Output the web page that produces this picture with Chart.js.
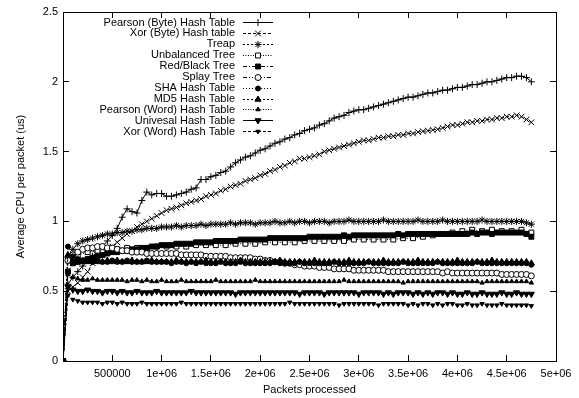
<!DOCTYPE html>
<html>
<head>
<meta charset="utf-8">
<script src="https://cdn.jsdelivr.net/npm/chart.js@4/dist/chart.umd.min.js"></script>
<style>
  html, body { margin: 0; padding: 0; background: #fff; }
</style>
</head>
<body>
<canvas id="cpu_chart" width="579" height="398"></canvas>
<script>
// packets processed (x) for every series except the unbalanced tree
const packets = [0,50000,100000,150000,200000,250000,300000,350000,400000,450000,
  500000,550000,600000,650000,700000,750000,800000,850000,900000,950000,
  1000000,1050000,1100000,1150000,1200000,1250000,1300000,1350000,1400000,1450000,
  1500000,1550000,1600000,1650000,1700000,1750000,1800000,1850000,1900000,1950000,
  2000000,2050000,2100000,2150000,2200000,2250000,2300000,2350000,2400000,2450000,
  2500000,2550000,2600000,2650000,2700000,2750000,2800000,2850000,2900000,2950000,
  3000000,3050000,3100000,3150000,3200000,3250000,3300000,3350000,3400000,3450000,
  3500000,3550000,3600000,3650000,3700000,3750000,3800000,3850000,3900000,3950000,
  4000000,4050000,4100000,4150000,4200000,4250000,4300000,4350000,4400000,4450000,
  4500000,4550000,4600000,4650000,4700000,4750000];

// the unbalanced tree was sampled half as often
const packetsUnbalanced = [0,50000,150000,250000,350000,450000,550000,650000,750000,850000,950000,
  1050000,1150000,1250000,1350000,1450000,1550000,1650000,1750000,1850000,1950000,
  2050000,2150000,2250000,2350000,2450000,2550000,2650000,2750000,2850000,2950000,
  3050000,3150000,3250000,3350000,3450000,3550000,3650000,3750000,3850000,3950000,
  4050000,4150000,4250000,4350000,4450000,4550000,4650000,4750000];

const pearsonByte = [0,
  0.55,0.60,0.64,0.68,0.72,0.75,0.78,0.82,0.86,0.90,
  0.95,1.03,1.09,1.07,1.06,1.15,1.21,1.19,1.20,1.20,
  1.18,1.18,1.19,1.20,1.21,1.23,1.24,1.30,1.30,1.32,
  1.33,1.35,1.36,1.39,1.42,1.44,1.46,1.47,1.49,1.51,
  1.52,1.54,1.56,1.57,1.59,1.60,1.62,1.63,1.65,1.66,
  1.67,1.69,1.70,1.72,1.74,1.75,1.76,1.78,1.79,1.80,
  1.80,1.81,1.82,1.83,1.84,1.85,1.86,1.87,1.88,1.89,
  1.89,1.90,1.91,1.92,1.92,1.93,1.94,1.94,1.95,1.96,
  1.96,1.97,1.98,1.98,1.99,2.00,2.00,2.01,2.02,2.03,
  2.03,2.04,2.04,2.03,2.00];

const xorByte = [0,
  0.50,0.53,0.56,0.60,0.64,0.70,0.73,0.76,0.79,0.82,
  0.85,0.88,0.91,0.93,0.96,0.98,1.00,1.02,1.04,1.06,
  1.08,1.09,1.10,1.115,1.13,1.14,1.15,1.16,1.18,1.19,
  1.20,1.22,1.23,1.25,1.26,1.27,1.29,1.30,1.31,1.33,
  1.34,1.36,1.37,1.39,1.40,1.42,1.43,1.45,1.45,1.46,
  1.47,1.48,1.50,1.51,1.52,1.53,1.54,1.55,1.56,1.57,
  1.58,1.58,1.59,1.60,1.60,1.61,1.61,1.62,1.62,1.63,
  1.63,1.64,1.645,1.65,1.655,1.66,1.67,1.68,1.69,1.69,
  1.70,1.71,1.71,1.72,1.72,1.73,1.73,1.74,1.74,1.75,
  1.75,1.76,1.75,1.73,1.71];

const treap = [0,
  0.74,0.80,0.84,0.86,0.87,0.88,0.89,0.90,0.91,0.91,
  0.92,0.92,0.93,0.93,0.94,0.94,0.95,0.95,0.95,0.96,
  0.96,0.96,0.97,0.96,0.97,0.97,0.97,0.98,0.97,0.98,
  0.98,0.98,0.98,0.99,0.98,0.99,0.99,0.99,0.98,0.99,
  0.99,0.99,1.00,0.99,0.99,1.00,0.99,1.00,1.00,0.99,
  1.00,1.00,1.00,0.99,1.00,1.00,1.00,1.01,1.00,1.00,
  1.00,1.00,1.00,1.00,1.01,1.00,1.00,1.00,1.00,1.00,
  1.00,1.01,1.00,1.00,1.00,1.00,1.01,1.00,1.00,1.00,
  1.00,1.00,1.00,1.00,1.01,1.00,1.00,1.00,1.00,1.00,
  1.00,1.00,1.00,0.99,0.98];

const unbalanced = [0,
  0.72,0.76,0.78,0.79,0.80,0.80,0.81,0.81,0.81,0.82,
  0.82,0.82,0.82,0.83,0.83,0.83,0.83,0.84,0.84,0.84,
  0.85,0.85,0.85,0.85,0.86,0.86,0.86,0.86,0.86,0.87,
  0.87,0.87,0.87,0.87,0.88,0.88,0.89,0.90,0.91,0.92,
  0.93,0.94,0.93,0.94,0.93,0.93,0.94,0.92];

const redBlack = [0,
  0.64,0.70,0.71,0.72,0.73,0.74,0.75,0.76,0.77,0.78,
  0.78,0.79,0.79,0.80,0.80,0.81,0.81,0.82,0.82,0.83,
  0.83,0.83,0.84,0.84,0.84,0.84,0.85,0.85,0.85,0.85,
  0.86,0.86,0.86,0.86,0.86,0.87,0.87,0.87,0.87,0.87,
  0.87,0.88,0.88,0.88,0.88,0.88,0.88,0.88,0.88,0.89,
  0.89,0.89,0.89,0.89,0.89,0.89,0.90,0.89,0.90,0.90,
  0.90,0.90,0.90,0.90,0.90,0.90,0.90,0.91,0.90,0.91,
  0.91,0.91,0.91,0.91,0.91,0.91,0.91,0.91,0.91,0.91,
  0.91,0.91,0.92,0.91,0.92,0.92,0.91,0.92,0.92,0.92,
  0.92,0.92,0.92,0.91,0.89];

const splay = [0,
  0.72,0.76,0.78,0.80,0.81,0.81,0.82,0.82,0.81,0.81,
  0.80,0.79,0.79,0.78,0.78,0.78,0.77,0.77,0.77,0.77,
  0.77,0.77,0.77,0.76,0.76,0.76,0.76,0.76,0.75,0.75,
  0.75,0.75,0.75,0.74,0.74,0.74,0.74,0.74,0.73,0.73,
  0.72,0.72,0.71,0.71,0.70,0.70,0.69,0.69,0.68,0.68,
  0.68,0.67,0.67,0.67,0.66,0.66,0.66,0.66,0.65,0.65,
  0.65,0.65,0.65,0.65,0.65,0.64,0.64,0.64,0.64,0.64,
  0.64,0.64,0.64,0.64,0.64,0.64,0.63,0.64,0.63,0.63,
  0.63,0.63,0.63,0.63,0.63,0.63,0.63,0.63,0.62,0.62,
  0.62,0.62,0.62,0.62,0.61];

const sha = [0,
  0.82,0.75,0.73,0.72,0.72,0.71,0.72,0.71,0.71,0.72,
  0.71,0.71,0.72,0.71,0.71,0.71,0.72,0.71,0.71,0.71,
  0.71,0.70,0.71,0.71,0.70,0.71,0.70,0.71,0.70,0.70,
  0.70,0.71,0.70,0.70,0.70,0.71,0.70,0.70,0.70,0.70,
  0.70,0.70,0.71,0.70,0.70,0.70,0.70,0.71,0.70,0.70,
  0.70,0.70,0.70,0.70,0.71,0.70,0.70,0.70,0.70,0.70,
  0.70,0.71,0.70,0.70,0.70,0.70,0.70,0.70,0.71,0.70,
  0.70,0.70,0.70,0.70,0.70,0.71,0.70,0.70,0.70,0.70,
  0.70,0.70,0.70,0.71,0.70,0.70,0.70,0.70,0.70,0.70,
  0.70,0.70,0.70,0.70,0.69];

const md5 = [0,
  0.76,0.72,0.72,0.71,0.71,0.72,0.71,0.71,0.72,0.71,
  0.72,0.71,0.71,0.72,0.71,0.71,0.71,0.72,0.71,0.71,
  0.71,0.71,0.72,0.71,0.71,0.71,0.71,0.71,0.72,0.71,
  0.71,0.71,0.71,0.71,0.71,0.72,0.71,0.71,0.71,0.71,
  0.71,0.71,0.71,0.72,0.71,0.71,0.71,0.71,0.71,0.71,
  0.72,0.71,0.71,0.71,0.71,0.71,0.71,0.72,0.71,0.71,
  0.71,0.71,0.71,0.71,0.72,0.71,0.71,0.71,0.71,0.71,
  0.71,0.72,0.71,0.71,0.71,0.71,0.71,0.71,0.71,0.72,
  0.71,0.71,0.71,0.71,0.71,0.71,0.72,0.71,0.71,0.71,
  0.71,0.71,0.71,0.71,0.70];

const pearsonWord = [0,
  0.62,0.60,0.59,0.58,0.58,0.59,0.58,0.58,0.58,0.58,
  0.58,0.58,0.57,0.58,0.58,0.57,0.58,0.57,0.57,0.58,
  0.57,0.57,0.57,0.58,0.57,0.57,0.57,0.57,0.57,0.57,
  0.58,0.57,0.57,0.57,0.57,0.57,0.57,0.57,0.58,0.57,
  0.57,0.57,0.57,0.57,0.57,0.57,0.57,0.57,0.57,0.57,
  0.57,0.57,0.57,0.57,0.57,0.57,0.58,0.57,0.57,0.57,
  0.57,0.57,0.57,0.57,0.57,0.57,0.57,0.57,0.56,0.57,
  0.57,0.57,0.57,0.57,0.57,0.57,0.57,0.57,0.57,0.57,
  0.57,0.57,0.57,0.57,0.56,0.57,0.57,0.57,0.57,0.57,
  0.57,0.57,0.57,0.57,0.56];

const universal = [0,
  0.53,0.51,0.50,0.50,0.51,0.50,0.50,0.49,0.50,0.50,
  0.49,0.50,0.49,0.49,0.50,0.49,0.49,0.49,0.50,0.49,
  0.49,0.49,0.49,0.49,0.49,0.50,0.49,0.49,0.49,0.49,
  0.49,0.49,0.49,0.49,0.48,0.49,0.49,0.49,0.49,0.49,
  0.49,0.49,0.49,0.49,0.49,0.49,0.49,0.48,0.49,0.49,
  0.49,0.49,0.48,0.49,0.49,0.49,0.49,0.49,0.49,0.48,
  0.49,0.49,0.49,0.49,0.48,0.49,0.48,0.49,0.49,0.49,
  0.48,0.49,0.48,0.49,0.48,0.49,0.49,0.48,0.49,0.48,
  0.48,0.49,0.48,0.48,0.49,0.48,0.48,0.48,0.49,0.48,
  0.48,0.49,0.48,0.48,0.48];

const xorWord = [0,
  0.47,0.44,0.43,0.42,0.42,0.42,0.42,0.41,0.42,0.42,
  0.41,0.42,0.41,0.41,0.41,0.42,0.41,0.41,0.41,0.41,
  0.41,0.41,0.41,0.42,0.41,0.41,0.41,0.41,0.41,0.41,
  0.41,0.41,0.41,0.41,0.41,0.41,0.41,0.41,0.41,0.41,
  0.41,0.41,0.41,0.41,0.41,0.42,0.41,0.41,0.41,0.41,
  0.41,0.41,0.41,0.41,0.41,0.40,0.41,0.41,0.41,0.41,
  0.41,0.41,0.41,0.40,0.41,0.41,0.41,0.41,0.41,0.40,
  0.41,0.40,0.41,0.41,0.40,0.41,0.40,0.41,0.41,0.40,
  0.40,0.41,0.40,0.40,0.41,0.40,0.40,0.40,0.41,0.40,
  0.40,0.40,0.40,0.40,0.395];

const names = ["Pearson (Byte) Hash Table", "Xor (Byte) Hash table", "Treap", "Unbalanced Tree",
  "Red/Black Tree", "Splay Tree", "SHA Hash Table", "MD5 Hash Table",
  "Pearson (Word) Hash Table", "Univesal Hash Table", "Xor (Word) Hash Table"];
const xValues = [packets, packets, packets, packetsUnbalanced, packets, packets,
  packets, packets, packets, packets, packets];
const yValues = [pearsonByte, xorByte, treap, unbalanced, redBlack, splay,
  sha, md5, pearsonWord, universal, xorWord];

const xTickValues = [500000, 1000000, 1500000, 2000000, 2500000, 3000000, 3500000, 4000000, 4500000, 5000000];
const xTickLabels = ["500000", "1e+06", "1.5e+06", "2e+06", "2.5e+06", "3e+06", "3.5e+06", "4e+06", "4.5e+06", "5e+06"];
const yTickValues = [0, 0.5, 1, 1.5, 2, 2.5];
const yTickLabels = ["0", "0.5", "1", "1.5", "2", "2.5"];

// gnuplot-ish line / point types
const dashes = [[], [3, 2], [2, 2], [1, 1.5], [4, 2, 1, 2], [4, 2, 1, 2, 1, 2], [1, 2], [2, 2], [1, 1.5], [], [3, 2]];
const markers = ["cross", "crossRot", "star", "rect", "rect", "circle", "circle", "triangle", "triangle", "triangle", "triangle"];
const markerSize = [3.5, 4, 3.5, 3.5, 3.5, 3, 2.5, 3.5, 2.5, 3.5, 2.5];
const markerFill = ["#000", "#000", "#000", "#fff", "#000", "#fff", "#000", "#000", "#000", "#000", "#000"];
const markerTurn = [0, 0, 0, 0, 0, 0, 0, 0, 0, 180, 180];

const FONT = '"Liberation Sans", Arial, Helvetica, sans-serif';
Chart.defaults.font.family = FONT;
Chart.defaults.font.size = 11;
Chart.defaults.color = "#000";

const datasets = names.map((name, i) => ({
  label: name,
  data: xValues[i].map((x, j) => ({ x: x, y: yValues[i][j] })),
  borderColor: "#000",
  borderWidth: 1,
  borderDash: dashes[i],
  pointStyle: markers[i],
  pointRadius: markerSize[i],
  pointRotation: markerTurn[i],
  pointBackgroundColor: markerFill[i],
  pointBorderColor: "#000",
  pointBorderWidth: 1,
  tension: 0,
  fill: false,
  clip: 0,
  order: names.length - i
}));

// key drawn gnuplot style: right aligned text, then a line sample with the marker
const keyPlugin = {
  id: "gnuKey",
  afterDatasetsDraw(chart) {
    const ctx = chart.ctx;
    const area = chart.chartArea;
    ctx.save();
    ctx.font = "11px " + FONT;
    ctx.textAlign = "right";
    ctx.textBaseline = "middle";
    chart.data.datasets.forEach((ds, i) => {
      const y = area.top + 10 + i * 10.93;
      const x0 = area.left + 180, x1 = area.left + 210;
      ctx.fillStyle = "#000";
      ctx.fillText(ds.label, area.left + 172, y + 0.5);
      ctx.strokeStyle = "#000";
      ctx.lineWidth = 1;
      ctx.setLineDash(ds.borderDash);
      ctx.beginPath();
      ctx.moveTo(x0, Math.round(y) + 0.5);
      ctx.lineTo(x1, Math.round(y) + 0.5);
      ctx.stroke();
      ctx.setLineDash([]);
      ctx.fillStyle = ds.pointBackgroundColor;
      Chart.helpers.drawPoint(ctx, {
        pointStyle: ds.pointStyle, radius: ds.pointRadius,
        rotation: ds.pointRotation, borderWidth: 1
      }, (x0 + x1) / 2, Math.round(y) + 0.5);
    });
    ctx.restore();
  }
};

const frame = { color: "#000", width: 1 };
const inwardTicks = { drawOnChartArea: false, drawTicks: true, tickLength: -6, color: "#000" };

// fixed box sizes so the plot area sits where the original one does
function pinSize(prop, size) {
  return s => {
    s[prop] = size;
    s.paddingTop = 0; s.paddingBottom = 0; s.paddingLeft = 0; s.paddingRight = 0;
  };
}

const cpuChart = new Chart(document.getElementById("cpu_chart"), {
  type: "line",
  data: { datasets: datasets },
  plugins: [keyPlugin],
  options: {
    responsive: false,
    animation: false,
    layout: { padding: { top: 12, right: 23, left: 0, bottom: 0 } },
    plugins: { legend: { display: false }, tooltip: { enabled: false } },
    scales: {
      x: {
        type: "linear", position: "bottom", min: 0, max: 5000000,
        afterBuildTicks: s => { s.ticks = xTickValues.map(v => ({ value: v })); },
        ticks: { callback: v => xTickLabels[xTickValues.indexOf(v)], maxRotation: 0, autoSkip: false, padding: 12 },
        grid: inwardTicks, border: frame,
        title: { display: true, text: "Packets processed", padding: { top: 0, bottom: 1 } },
        afterFit: pinSize("height", 37)
      },
      x2: {
        type: "linear", position: "top", min: 0, max: 5000000,
        afterBuildTicks: s => { s.ticks = xTickValues.map(v => ({ value: v })); },
        ticks: { display: false },
        grid: inwardTicks, border: frame,
        afterFit: pinSize("height", 0)
      },
      y: {
        type: "linear", position: "left", min: 0, max: 2.5,
        afterBuildTicks: s => { s.ticks = yTickValues.map(v => ({ value: v })); },
        ticks: { callback: v => yTickLabels[yTickValues.indexOf(v)], padding: 11 },
        grid: inwardTicks, border: frame,
        title: { display: true, text: "Average CPU per packet (us)", padding: { top: 14, bottom: 0 } },
        afterFit: pinSize("width", 63)
      },
      y2: {
        type: "linear", position: "right", min: 0, max: 2.5,
        afterBuildTicks: s => { s.ticks = yTickValues.map(v => ({ value: v })); },
        ticks: { display: false },
        grid: inwardTicks, border: frame,
        afterFit: pinSize("width", 0)
      }
    }
  }
});
</script>
</body>
</html>
